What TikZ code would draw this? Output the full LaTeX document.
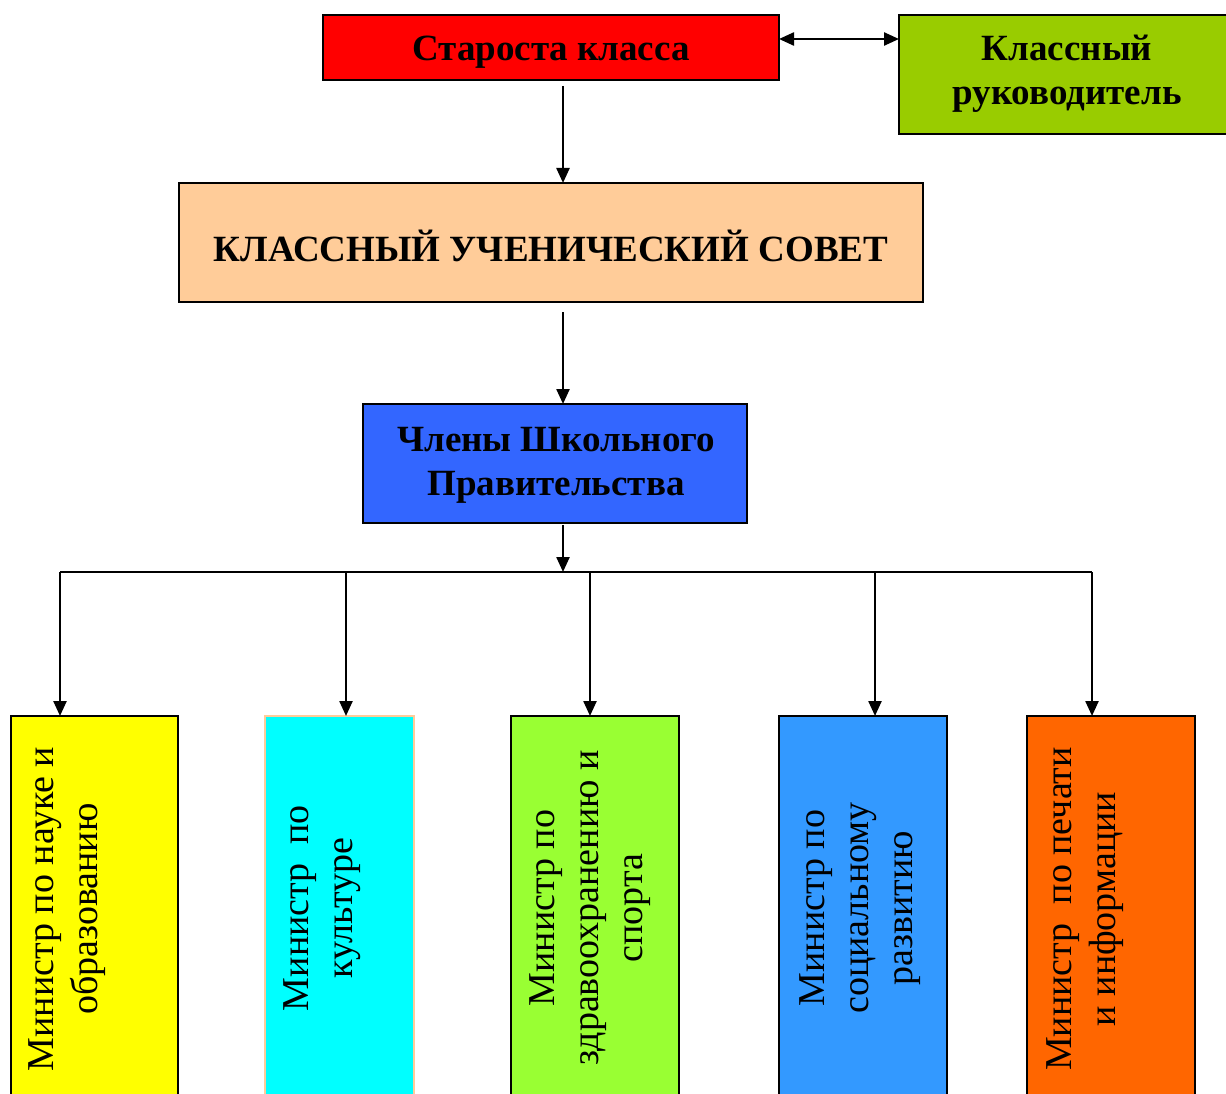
\documentclass[tikz,border=0pt]{standalone}
\usepackage{fontspec}
\setmainfont{Liberation Serif}
\usetikzlibrary{arrows.meta}
\definecolor{cred}{HTML}{FF0000}
\definecolor{cgreen}{HTML}{99CC00}
\definecolor{cpeach}{HTML}{FFCC99}
\definecolor{cblue}{HTML}{3366FF}
\definecolor{cyel}{HTML}{FFFF00}
\definecolor{ccyan}{HTML}{00FFFF}
\definecolor{clime}{HTML}{99FF33}
\definecolor{csky}{HTML}{3399FF}
\definecolor{corange}{HTML}{FF6600}
\tikzset{
  box/.style={draw=black, line width=1.5pt, rectangle, inner sep=0pt, outer sep=0pt},
  toptext/.style={font=\fontsize{37}{44}\selectfont\bfseries, align=center},
  mintext/.style={font=\fontsize{38}{44}\selectfont, align=center, rotate=90, inner sep=0pt},
  arr/.style={line width=2.4pt, -{Triangle[length=15pt,width=13pt]}},
  arrb/.style={line width=2.4pt, {Triangle[length=15pt,width=13pt]}-{Triangle[length=15pt,width=13pt]}},
  bus/.style={line width=2.4pt}
}
\begin{document}
\begin{tikzpicture}[x=1pt,y=-1pt]
\useasboundingbox (0,0) rectangle (1226,1094);
\clip (0,0) rectangle (1226,1094);
% top boxes
\node[box, fill=cred, minimum width=456pt, minimum height=65pt] (st) at (551,47.5) {};
\node[toptext] (stt) at (551,52) {Староста класса};
\node[box, fill=cgreen, minimum width=329pt, minimum height=119pt] (kr) at (1063.5,74.5) {};
\node[toptext] (krt) at (1067,74) {Классный\\руководитель};
\node[box, fill=cpeach, minimum width=744pt, minimum height=119pt] (sov) at (551,242.5) {};
\node[toptext] (sovt) at (551,246) {КЛАССНЫЙ УЧЕНИЧЕСКИЙ СОВЕТ};
\node[box, fill=cblue, minimum width=384pt, minimum height=119pt] (chl) at (555,463.5) {};
\node[toptext] (chlt) at (556,465) {Члены Школьного\\Правительства};
% bottom boxes
\node[box, fill=cyel, minimum width=167pt, minimum height=390pt, anchor=north] (m1) at (94.5,716) {};
\node[box, fill=ccyan, draw=cpeach, minimum width=149pt, minimum height=390pt, anchor=north] (m2) at (339.5,716) {};
\node[box, fill=clime, minimum width=168pt, minimum height=390pt, anchor=north] (m3) at (595,716) {};
\node[box, fill=csky, minimum width=168pt, minimum height=390pt, anchor=north] (m4) at (863,716) {};
\node[box, fill=corange, minimum width=168pt, minimum height=390pt, anchor=north] (m5) at (1111,716) {};
\node[mintext] (t1) at (67,909) {Министр по науке и\\образованию};
\node[mintext] (t2) at (322,908) {Министр\ \ по\\культуре};
\node[mintext] (t3) at (590,908) {Министр по\\здравоохранению и\\спорта};
\node[mintext] (t4) at (860,908) {Министр по\\социальному\\развитию};
\node[mintext] (t5) at (1085,909) {Министр\ \ по печати\\и информации};
% connectors
\coordinate (hub) at (563,572);
\draw[arrb] ([yshift=8.5pt]st.east) -- ([yshift=8.5pt]st.east -| kr.west);
\draw[arr, shorten <=6pt] (st.south -| hub) -- (sov.north -| hub);
\draw[arr, shorten <=10pt] (sov.south -| hub) -- (chl.north -| hub);
\draw[arr, shorten <=2pt] (chl.south -| hub) -- (hub);
\coordinate (b1) at (60,572);
\coordinate (b2) at (346,572);
\coordinate (b3) at (590,572);
\coordinate (b4) at (875,572);
\coordinate (b5) at (1092,572);
\draw[bus] (b1) -- (b5);
\draw[arr] (b1) -- (b1 |- m1.north);
\draw[arr] (b2) -- (b2 |- m2.north);
\draw[arr] (b3) -- (b3 |- m3.north);
\draw[arr] (b4) -- (b4 |- m4.north);
\draw[arr] (b5) -- (b5 |- m5.north);
\end{tikzpicture}
\end{document}
